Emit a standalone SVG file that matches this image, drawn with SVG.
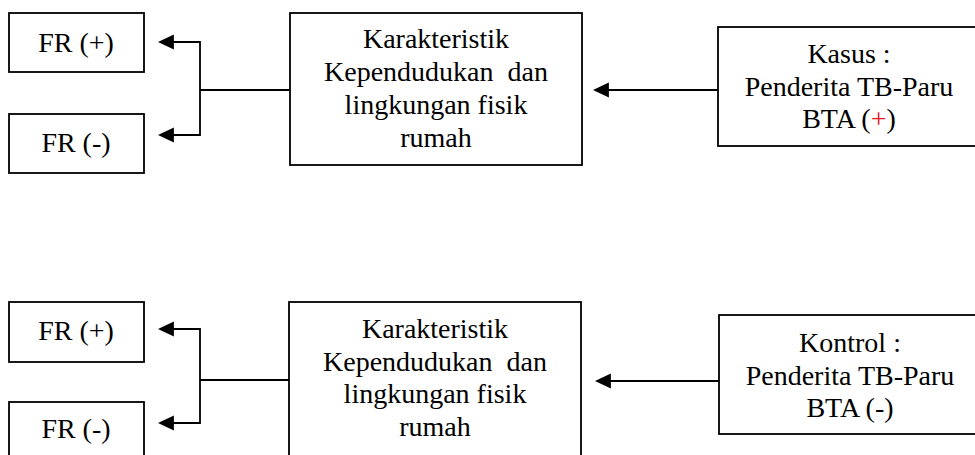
<svg xmlns="http://www.w3.org/2000/svg" width="975" height="455" viewBox="0 0 975 455">
<style>
.box{fill:#fff;stroke:#000;stroke-width:1.8}
.ln{fill:none;stroke:#000;stroke-width:1.8}
.ar{marker-end:url(#ah)}
text{font-family:'Liberation Serif','DejaVu Serif',serif;font-size:28px;fill:#000;text-anchor:middle}
.red{fill:#e8141c}
</style>
<defs>
<marker id="ah" markerUnits="userSpaceOnUse" markerWidth="16" markerHeight="16" viewBox="0 0 15 14" refX="13" refY="7" orient="auto">
<path d="M0,0 L15,7 L0,14 Z" fill="#000"/>
</marker>
</defs>
<rect width="975" height="455" fill="#fff"/>

<g id="connectors">
<path class="ln" d="M290,90 H200"/>
<path class="ln ar" d="M200,90 V42 H160"/>
<path class="ln ar" d="M200,90 V135 H160"/>
<path class="ln ar" d="M718,90 H595"/>
<path class="ln" d="M289,380 H200"/>
<path class="ln ar" d="M200,380 V329 H160"/>
<path class="ln ar" d="M200,380 V423 H160"/>
<path class="ln ar" d="M719,381 H597"/>
</g>

<g font-family="'Liberation Serif', 'DejaVu Serif', serif">
<g id="fr-plus-1">
<rect class="box" x="9" y="13" width="135" height="59"/>
<text x="76" y="52">FR (+)</text>
</g>
<g id="fr-minus-1">
<rect class="box" x="9" y="114" width="135" height="59"/>
<text x="76" y="152">FR (-)</text>
</g>
<g id="karakteristik-1">
<rect class="box" x="290" y="13" width="292" height="152"/>
<text x="436" y="48">Karakteristik</text>
<text x="436" y="81" xml:space="preserve">Kependudukan  dan</text>
<text x="436" y="114">lingkungan fisik</text>
<text x="436" y="147">rumah</text>
</g>
<g id="kasus">
<rect class="box" x="718" y="27" width="280" height="119"/>
<text x="849" y="63">Kasus :</text>
<text x="849" y="96">Penderita TB-Paru</text>
<text x="849" y="128">BTA (<tspan class="red">+</tspan>)</text>
</g>

<g id="fr-plus-2">
<rect class="box" x="9" y="302" width="135" height="60"/>
<text x="76" y="340">FR (+)</text>
</g>
<g id="fr-minus-2">
<rect class="box" x="9" y="402" width="135" height="70"/>
<text x="76" y="438">FR (-)</text>
</g>
<g id="karakteristik-2">
<rect class="box" x="289" y="302" width="292" height="170"/>
<text x="435" y="338">Karakteristik</text>
<text x="435" y="371" xml:space="preserve">Kependudukan  dan</text>
<text x="435" y="403">lingkungan fisik</text>
<text x="435" y="436">rumah</text>
</g>
<g id="kontrol">
<rect class="box" x="719" y="315" width="280" height="119"/>
<text x="850" y="352">Kontrol :</text>
<text x="850" y="385">Penderita TB-Paru</text>
<text x="850" y="417">BTA (-)</text>
</g>
</g>
</svg>
